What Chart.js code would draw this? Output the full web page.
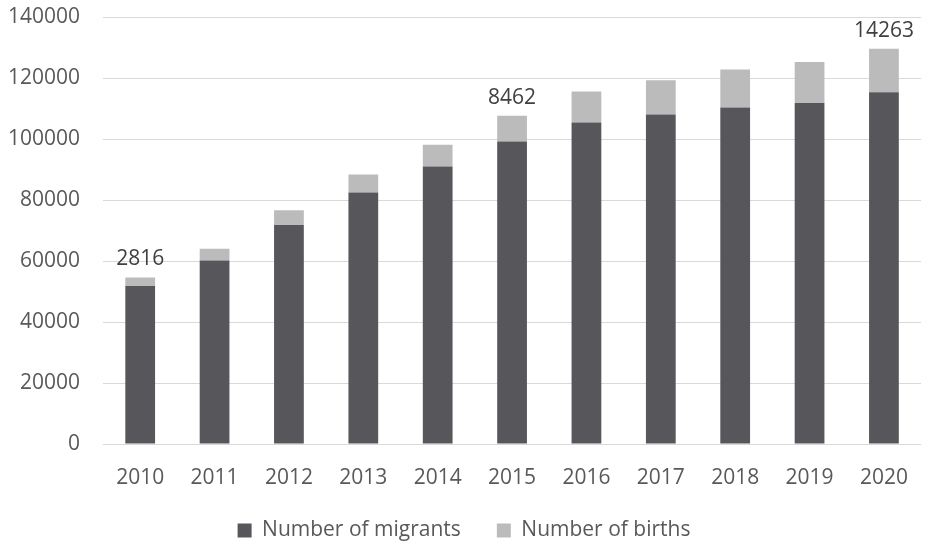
<!DOCTYPE html>
<html>
<head>
<meta charset="utf-8">
<script src="https://cdn.jsdelivr.net/npm/chart.js@4/dist/chart.umd.min.js"></script>
<style>
  html, body { margin: 0; padding: 0; background: #fff; overflow: hidden; }
  #wrap { width: 929px; height: 544px; }
</style>
</head>
<body>
<div id="wrap"><canvas id="chart" width="929" height="544"></canvas></div>
<script>
// ===== Data =====
const years = ["2010", "2011", "2012", "2013", "2014", "2015", "2016", "2017", "2018", "2019", "2020"];
const migrants = [51800, 60200, 71800, 82500, 91000, 99200, 105400, 108000, 110300, 111800, 115300];
const births = [2816, 3800, 4800, 5900, 7100, 8462, 10200, 11250, 12450, 13450, 14263];
const labelledYears = ["2010", "2015", "2020"];
const yTicks = [0, 20000, 40000, 60000, 80000, 100000, 120000, 140000];

const tickFont = { family: "'Open Sans', sans-serif", size: 21 };

// value labels above the stacked bars for a few years
const birthLabels = {
  id: "birthLabels",
  afterDatasetsDraw(chart) {
    const ctx = chart.ctx;
    const meta = chart.getDatasetMeta(1);
    ctx.save();
    ctx.font = "21px 'Open Sans', sans-serif";
    ctx.fillStyle = "#404040";
    ctx.textAlign = "center";
    ctx.textBaseline = "middle";
    years.forEach((y, i) => {
      if (!labelledYears.includes(y)) return;
      const bar = meta.data[i];
      ctx.fillText(String(births[i]), bar.x, bar.y - 18);
    });
    ctx.restore();
  }
};

new Chart(document.getElementById("chart"), {
  type: "bar",
  data: {
    labels: years,
    datasets: [
      {
        label: "Number of migrants",
        data: migrants,
        backgroundColor: "#57565b",
        borderWidth: 0
      },
      {
        label: "Number of births",
        data: births,
        backgroundColor: "#bbbbbb",
        borderWidth: 0
      }
    ]
  },
  options: {
    responsive: false,
    animation: false,
    events: [],
    datasets: {
      bar: { barPercentage: 0.4, categoryPercentage: 1 }
    },
    layout: { padding: { top: 17, right: 1, left: 0, bottom: -7 } },
    scales: {
      x: {
        stacked: true,
        grid: { display: false, drawTicks: false },
        border: { display: false },
        ticks: { color: "#595959", font: tickFont, padding: 21 },
        afterFit(scale) { scale.height = 40; }
      },
      y: {
        stacked: true,
        min: 0,
        max: 140000,
        afterBuildTicks(scale) { scale.ticks = yTicks.map(v => ({ value: v })); },
        // invisible tick marks keep the labels away from the plot
        grid: { color: "#d9d9d9", lineWidth: 1, drawTicks: true, tickLength: 23, tickColor: "rgba(0,0,0,0)" },
        border: { display: false },
        ticks: {
          color: "#595959",
          font: tickFont,
          padding: 0,
          callback: v => String(v)
        },
        afterFit(scale) { scale.width = 103; }
      }
    },
    plugins: {
      tooltip: { enabled: false },
      legend: {
        position: "bottom",
        labels: {
          color: "#595959",
          font: { family: "'Open Sans', sans-serif", size: 21 },
          boxWidth: 14,
          boxHeight: 14,
          padding: 36
        }
      }
    }
  },
  plugins: [birthLabels]
});
</script>
</body>
</html>
